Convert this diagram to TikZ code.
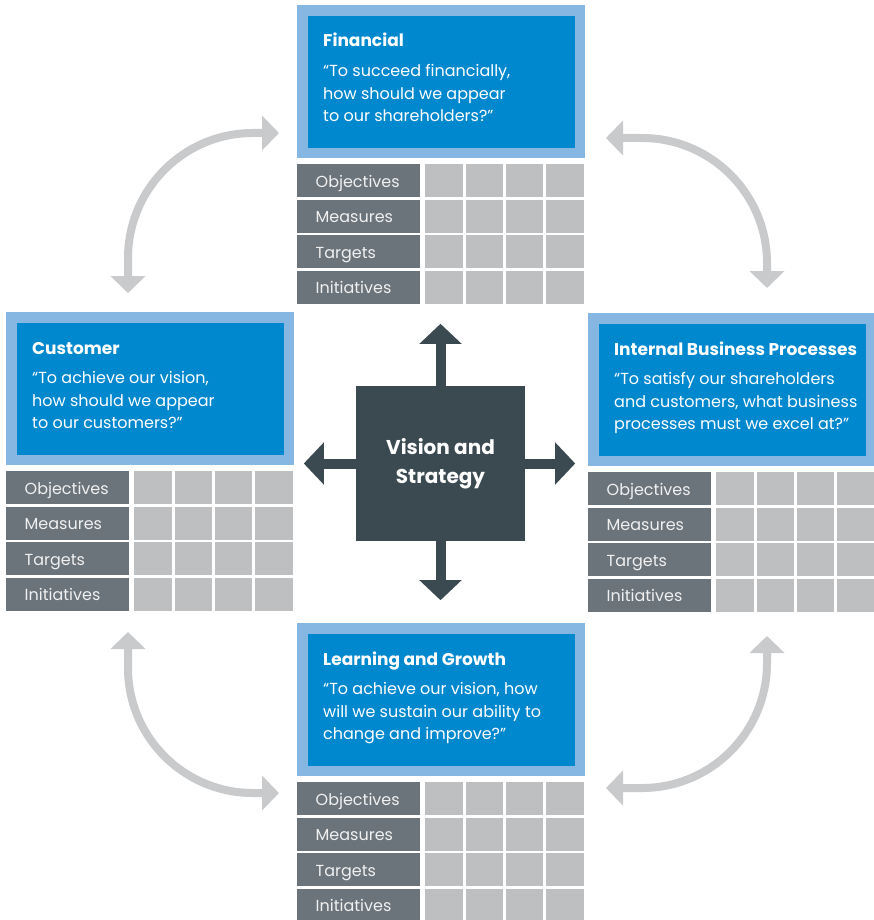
\documentclass[tikz,border=0pt]{standalone}
\usepackage{fontspec}
\setmainfont{Poppins}
\usepackage{tikz}
\usetikzlibrary{arrows.meta, positioning}
\definecolor{frameblue}{HTML}{85B7E2}
\definecolor{boxblue}{HTML}{0088CE}
\definecolor{rowgray}{HTML}{6B747B}
\definecolor{cellgray}{HTML}{BDBFC1}
\definecolor{rowtext}{HTML}{F0F0F0}
\definecolor{slate}{HTML}{3B4951}
\definecolor{swinggray}{HTML}{C9CACC}
\tikzset{
panel/.style={fill=frameblue, minimum width=288pt, minimum height=153pt, inner sep=0pt, anchor=north west}, % light frame round each perspective
questionbox/.style={fill=boxblue, minimum width=267pt, minimum height=132pt, inner sep=0pt},
headline/.style={text=white, font=\fontsize{17pt}{22pt}\selectfont\bfseries, inner sep=0pt, anchor=base west},
asktext/.style={text=white, font=\fontsize{16pt}{22.5pt}\selectfont, align=left, inner sep=0pt, anchor=north west},
rowlabel/.style={fill=rowgray, text=rowtext, font=\fontsize{16pt}{20pt}\selectfont, minimum width=123pt, minimum height=33pt,
  text width=86pt, inner xsep=18.5pt, inner ysep=0pt, text height=14pt, text depth=1pt, align=left, anchor=north west},
cell/.style={fill=cellgray, minimum width=37.5pt, minimum height=33pt, inner sep=0pt, anchor=north west},
vision/.style={fill=slate, text=white, minimum width=169pt, minimum height=155pt, align=center,
  font=\fontsize{20pt}{29pt}\selectfont\bfseries},
push/.style={draw=slate, line width=10pt, -{Triangle[width=41pt,length=20pt]}}, % thick arrows out of the centre
swing/.style={draw=swinggray, line width=8pt, rounded corners=125pt,
  {Triangle[width=34pt,length=17pt]}-{Triangle[width=34pt,length=17pt]}},
}
% one perspective: name, left, top, title, question
\newcommand{\perspective}[5]{%
  \node[panel] (#1) at (#2,-#3) {};
  \node[questionbox] (#1-box) at (#1.center) {};
  \node[headline] (#1-title) at ([shift={(26,-42)}]#1.north west) {#4};
  \node[asktext] (#1-ask) at ([shift={(26,-59.5)}]#1.north west) {#5};
  \foreach \lbl [count=\rw from 0] in {Objectives,Measures,Targets,Initiatives}{
    \node[rowlabel] (#1-row\rw) at ([yshift={-159-35.5*\rw}]#1.north west) {\lbl};
    \foreach \cl in {0,...,3}
      \node[cell] (#1-cell\rw\cl) at ([xshift={128+40.3*\cl}]#1-row\rw.north west) {};
  }
}

\begin{document}
\begin{tikzpicture}[x=1pt, y=1pt]
  \path[use as bounding box, fill=white] (0,0) rectangle (874,-920);

  \perspective{fin}{297}{5}{Financial}{“To succeed financially,\\how should we appear\\to our shareholders?”}
  \perspective{cus}{6}{312}{Customer}{“To achieve our vision,\\how should we appear\\to our customers?”}
  \perspective{ibp}{588}{313}{Internal Business Processes}{“To satisfy our shareholders\\and customers, what business\\processes must we excel at?”}
  \perspective{lag}{297}{623}{Learning and Growth}{“To achieve our vision, how\\will we sustain our ability to\\change and improve?”}

  \node[vision] (vs) at (440.5,-463.5) {Vision and\\Strategy};
  \coordinate[above=62pt of vs] (vsN);
  \coordinate[below=59pt of vs] (vsS);
  \coordinate[left=52pt of vs] (vsW);
  \coordinate[right=50pt of vs] (vsE);
  \draw[push] (vs.north) -- (vsN);
  \draw[push] (vs.south) -- (vsS);
  \draw[push] (vs.west) -- (vsW);
  \draw[push] (vs.east) -- (vsE);

  % links between neighbouring perspectives
  \coordinate (tlA) at (128,-293);
  \coordinate (tlB) at (279,-133);
  \coordinate (trA) at (606,-138);
  \coordinate (trB) at (767,-288);
  \coordinate (blA) at (128,-632);
  \coordinate (blB) at (279,-793);
  \coordinate (brA) at (767,-636);
  \coordinate (brB) at (606,-788);
  \draw[swing] (tlA) |- (tlB);
  \draw[swing] (trA) -| (trB);
  \draw[swing] (blA) |- (blB);
  \draw[swing] (brA) |- (brB);
\end{tikzpicture}
\end{document}
